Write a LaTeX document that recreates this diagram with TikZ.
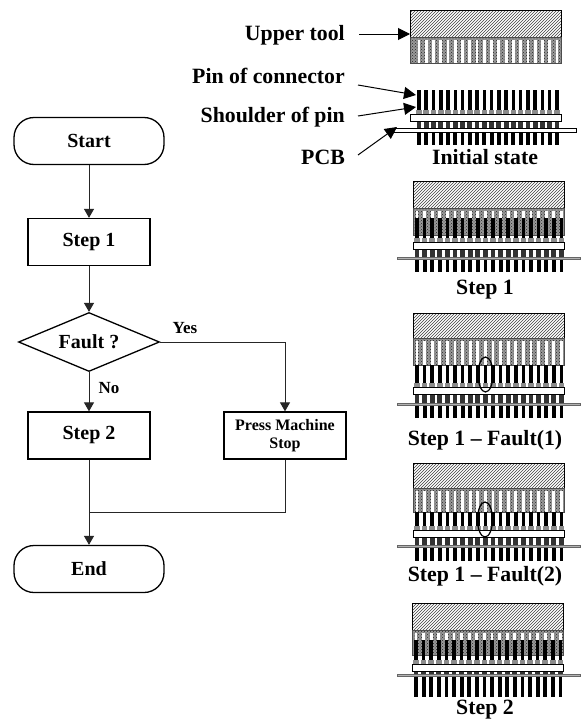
\documentclass[tikz,border=0pt]{standalone}
\usepackage{fontspec}
\setmainfont{Liberation Serif}
\usetikzlibrary{arrows.meta,patterns,shapes.geometric}
\tikzset{
  x=1pt,y=-1pt,
  flowline/.style={line width=1pt,black!85},
  flowarrow/.style={flowline,-{Triangle[width=10pt,length=9pt]}},
  callout/.style={line width=1pt,black,-{Triangle[width=12pt,length=12pt]}},
  flowbox/.style={draw,line width=1.3pt,minimum width=122pt,minimum height=47pt,inner sep=0pt,font=\fontsize{20}{22}\selectfont\bfseries,align=center},
  terminal/.style={flowbox,minimum width=150pt,rounded corners=20pt},
  decision/.style={draw,line width=1.3pt,diamond,aspect=2.39,minimum width=141pt,minimum height=59pt,inner sep=0pt,font=\fontsize{20}{22}\selectfont\bfseries},
  edgelab/.style={font=\fontsize{17}{18}\selectfont\bfseries,inner sep=0pt},
  sidelab/.style={anchor=east,inner sep=0pt,font=\fontsize{21.8}{24}\selectfont\bfseries},
  caption/.style={inner sep=0pt,font=\fontsize{21.8}{24}\selectfont\bfseries},
  ring/.style={draw,ellipse,line width=1.2pt,inner sep=0pt}
}
% #1 left x, #2 top, #3 hatch end, #4 teeth end, #5 pin top, #6 plate top, #7 pcb y, #8 pin bottom, #9 pcb left
\newcommand{\pressunit}[9]{%
  \pgfmathsetmacro{\poff}{#9<395?9:4}
  \pgfmathsetmacro{\pgap}{#9<395?7.26:7.6}
  \fill[white] (#1,#2) rectangle ++(151,{#3-#2});
  \draw[line width=.8pt,pattern={north east lines},pattern color=black!75] (#1,#2) rectangle ({#1+151},#3);
  \fill[black!40] (#1,#3) rectangle ({#1+151},#4);
  \fill[pattern={crosshatch dots},pattern color=black!85] (#1,#3) rectangle ({#1+151},#4);
  \draw[line width=.6pt,black!70] (#1,#3) rectangle ({#1+151},#4);
  \foreach \k in {0,...,19}{
    \pgfmathsetmacro{\px}{#1+\poff+\k*\pgap}
    \fill[white] ({\px-1.4},{#3+3}) rectangle ({\px+1.4},#4);
    \fill[black] ({\px-1.8},#5) rectangle ({\px+1.8},#6);
    \fill[black!45] ({\px-2.8},{#6-4}) rectangle ({\px+2.8},#6);
    \fill[black!80] ({\px-2.4},{#6+8}) rectangle ({\px+2.4},{#7-1});
    \fill[black] ({\px-1.9},{#7+2}) rectangle ({\px+1.9},#8);
  }
  \draw[line width=.8pt,fill=white] (#1,#6) rectangle ({#1+151},{#6+7});
  \ifdim#9pt<395pt
    \draw[line width=.7pt,fill=white] (#9,{#7-2}) rectangle ++(184,4);
  \else
    \draw[line width=.5pt,black!60,fill=black!30] (#9,{#7-1}) rectangle ++(183,2.5);
  \fi
}
\begin{document}
\begin{tikzpicture}
\useasboundingbox (0,0) rectangle (584,723);
\fill[white] (0,0) rectangle (584,723);
% flowchart
\node[terminal] (start) at (89,141) {Start};
\node[flowbox] (step1) at (89,242) {Step 1};
\node[decision] (fault) at (89,342) {Fault ?};
\node[flowbox] (step2) at (89,435.5) {Step 2};
\node[flowbox,font=\fontsize{16}{18}\selectfont\bfseries] (stop) at (285,435.5) {Press Machine\\Stop};
\node[terminal] (end) at (89,569) {End};
\coordinate (join) at (89,512);
\draw[flowarrow] (start.south) -- (step1.north);
\draw[flowarrow] (step1.south) -- (fault.north);
\draw[flowarrow] (fault.south) -- (step2.north);
\draw[flowarrow] (fault.east) -| (stop.north);
\draw[flowarrow] (step2.south) -- (end.north);
\draw[flowline] (stop.south) |- (join);
\node[edgelab] (yes) at (185,328) {Yes};
\node[edgelab] (no) at (109,388) {No};
% machines
\pressunit{410}{10}{37}{63}{90}{114}{130}{145}{392}
\pressunit{413}{181}{208}{235}{218}{242}{258}{272}{397}
\pressunit{413}{313}{338}{365}{365}{387}{404}{418}{397}
\pressunit{413}{463}{488}{512}{512}{530}{546}{561}{397}
\pressunit{412}{603}{630}{655}{640}{664}{675}{697}{397}
\node[ring,minimum width=15pt,minimum height=35pt] (ring1) at (485.5,374.5) {};
\node[ring,minimum width=15pt,minimum height=35pt] (ring2) at (485,519.5) {};
% captions
\node[caption] (cap0) at (485,157) {Initial state};
\node[caption] (cap1) at (485,290) {Step 1};
\node[caption] (cap2) at (485,440) {Step 1 -- Fault(1)};
\node[caption] (cap3) at (485,576) {Step 1 -- Fault(2)};
\node[caption] (cap4) at (485,710) {Step 2};
% side labels
\node[sidelab] (upper) at (345,35) {Upper tool};
\node[sidelab] (pin) at (345,76) {Pin of connector};
\node[sidelab] (shoulder) at (345,117) {Shoulder of pin};
\node[sidelab] (pcb) at (345,157) {PCB};
\coordinate (toolpt) at (410,34);
\coordinate (pinpt) at (416,95);
\coordinate (shpt) at (416,107);
\coordinate (pcbpt) at (397,127);
\coordinate (pinfrom) at (358,85);
\draw[callout] (upper.east) ++(14,-1) -- (toolpt);
\draw[callout] (pinfrom) -- (pinpt);
\draw[callout] (shoulder.east) ++(13,-1) -- (shpt);
\draw[callout] (pcb.east) ++(13,-2) -- (pcbpt);
\end{tikzpicture}
\end{document}
